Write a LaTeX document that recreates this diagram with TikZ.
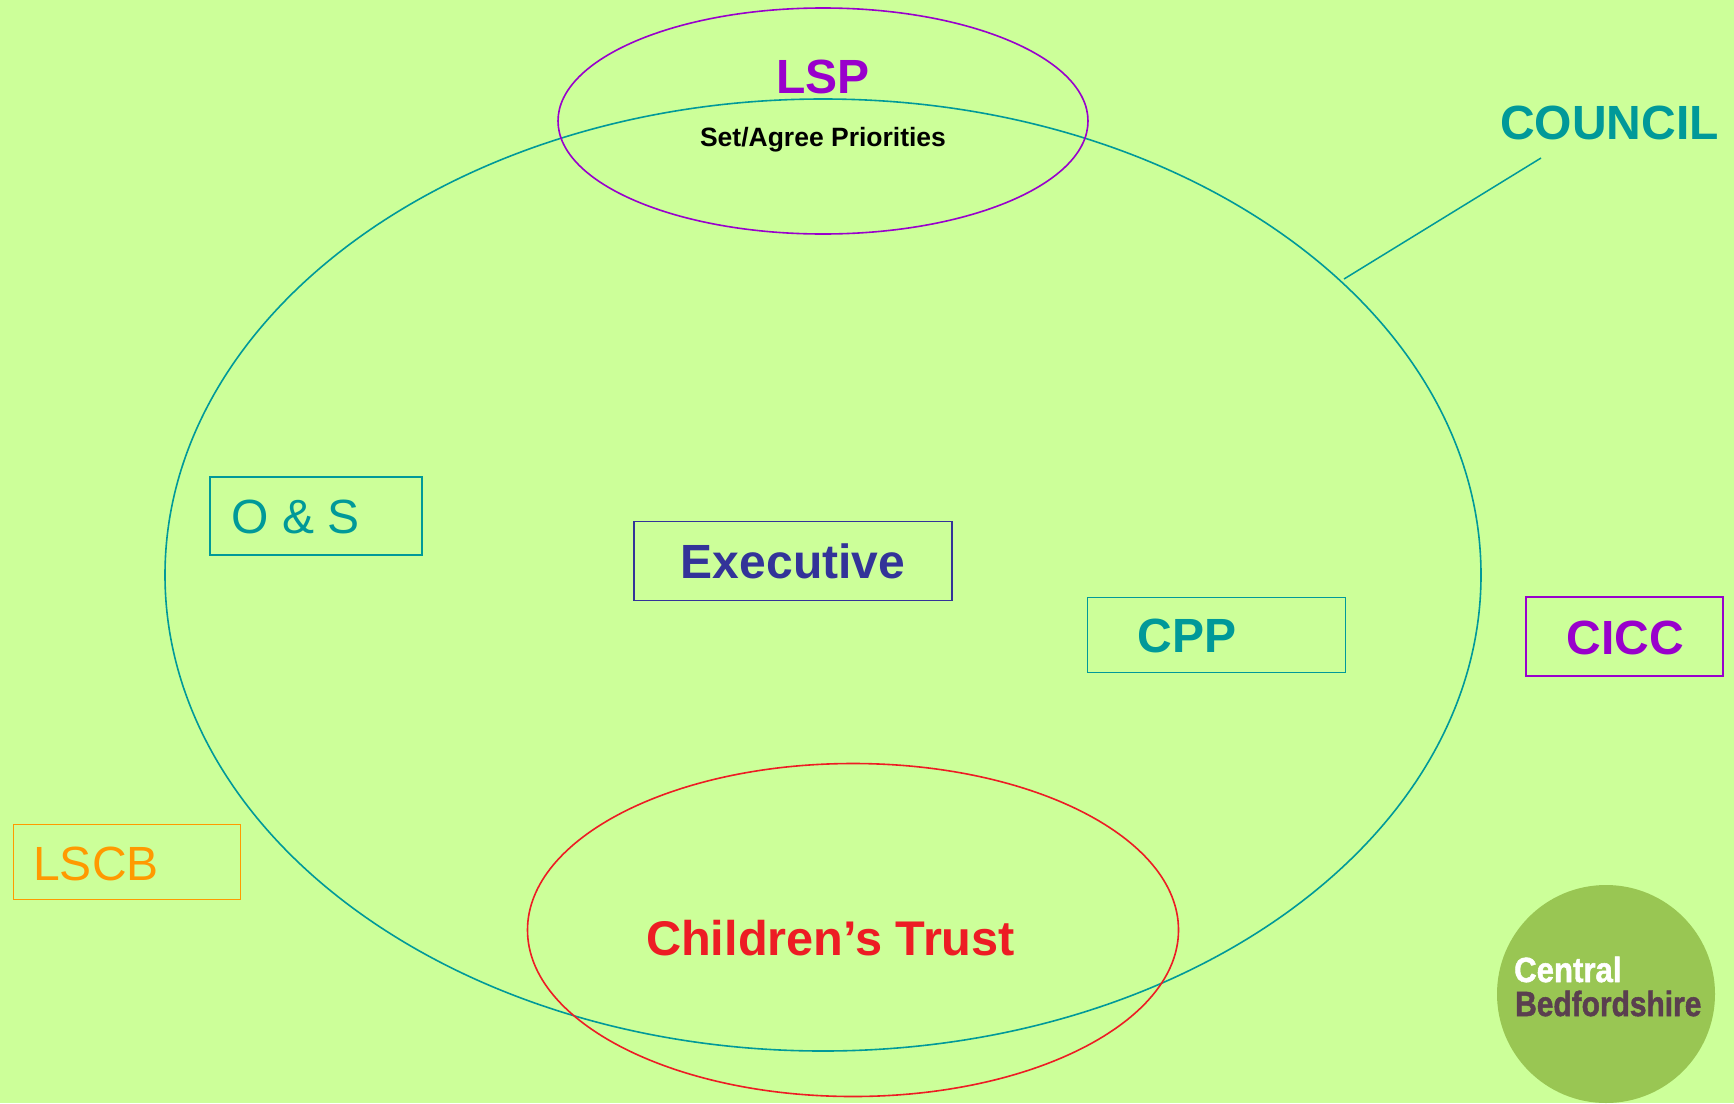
\documentclass[tikz,border=0pt]{standalone}
\usepackage{fontspec}
\setmainfont{Liberation Sans}
\newfontfamily\logofont[FakeBold=1.5]{Liberation Sans Bold}
\usetikzlibrary{shapes.geometric}
\definecolor{bg}{HTML}{CCFF99}
\definecolor{teal2}{HTML}{009999}
\definecolor{purp}{HTML}{9900CC}
\definecolor{navy2}{HTML}{333399}
\definecolor{red2}{HTML}{ED1C24}
\definecolor{orng}{HTML}{FF9900}
\definecolor{logog}{HTML}{99C653}
\definecolor{logod}{HTML}{5A3F4F}
\tikzset{
  x=1pt,y=-1pt,
  ring/.style={ellipse,draw=#1,line width=1.6pt,inner sep=0pt,fill=none},
  boxy/.style={rectangle,draw=#1,line width=1.5pt,inner sep=0pt,fill=none},
  big/.style={anchor=base,inner sep=0pt,text=#1,font=\fontsize{48}{48}\selectfont},
  bigb/.style={anchor=base,inner sep=0pt,text=#1,font=\fontsize{48}{48}\selectfont\bfseries},
  logotxt/.style={anchor=base west,inner sep=0pt,text=#1,font=\fontsize{35}{35}\logofont}
}
\begin{document}
\begin{tikzpicture}
\useasboundingbox (0,0) rectangle (1734,1103);
\fill[bg] (0,0) rectangle (1734,1103);
% logo
\node[ellipse,fill=logog,inner sep=0pt,minimum width=218pt,minimum height=218pt] (logo) at (1606,994) {};
\node[logotxt=white,xscale=.89] (central) at (1514,982) {Central};
\node[logotxt=logod,xscale=.855] (bedford) at (1515,1016) {Bedfordshire};
% ellipses
\node[ring=teal2,minimum width=1316pt,minimum height=952pt] (council) at (823,575) {};
\node[ring=purp,minimum width=530pt,minimum height=226pt] (lsp) at (823,121) {};
\node[ring=red2,minimum width=651pt,minimum height=333pt] (trust) at (853,930) {};
% boxes
\node[boxy=teal2,minimum width=212pt,minimum height=78pt] (osbox) at (316,516) {};
\node[boxy=navy2,minimum width=318pt,minimum height=79pt] (execbox) at (793,561) {};
\node[boxy=teal2,minimum width=258pt,minimum height=75pt] (cppbox) at (1216.5,635) {};
\node[boxy=purp,minimum width=197pt,minimum height=79pt] (ciccbox) at (1624.5,636.5) {};
\node[boxy=orng,minimum width=227pt,minimum height=75pt] (lscbbox) at (127,862) {};
% labels
\node[bigb=purp] (lsptxt) at (823,93) {LSP};
\node[anchor=base,inner sep=0pt,font=\fontsize{26.5}{26.5}\selectfont\bfseries] (setagree) at (823,146.5) {Set/Agree Priorities};
\node[bigb=teal2] (counciltxt) at (1609.5,139) {COUNCIL};
\node[big=teal2] (ostxt) at (295.5,533) {O \& S};
\node[bigb=navy2] (exectxt) at (793,578) {Executive};
\node[bigb=teal2] (cpptxt) at (1187,652) {CPP};
\node[bigb=purp] (cicctxt) at (1625,654) {CICC};
\node[big=orng] (lscbtxt) at (96,880) {LSCB};
\node[bigb=red2,font=\fontsize{48.7}{48.7}\selectfont\bfseries] (trusttxt) at (830.5,955) {Children’s Trust};
% connector
\coordinate (c1) at (1344,279);
\coordinate (c2) at (1541,158);
\draw[teal2,line width=1.5pt] (c1) -- (c2);
\end{tikzpicture}
\end{document}
